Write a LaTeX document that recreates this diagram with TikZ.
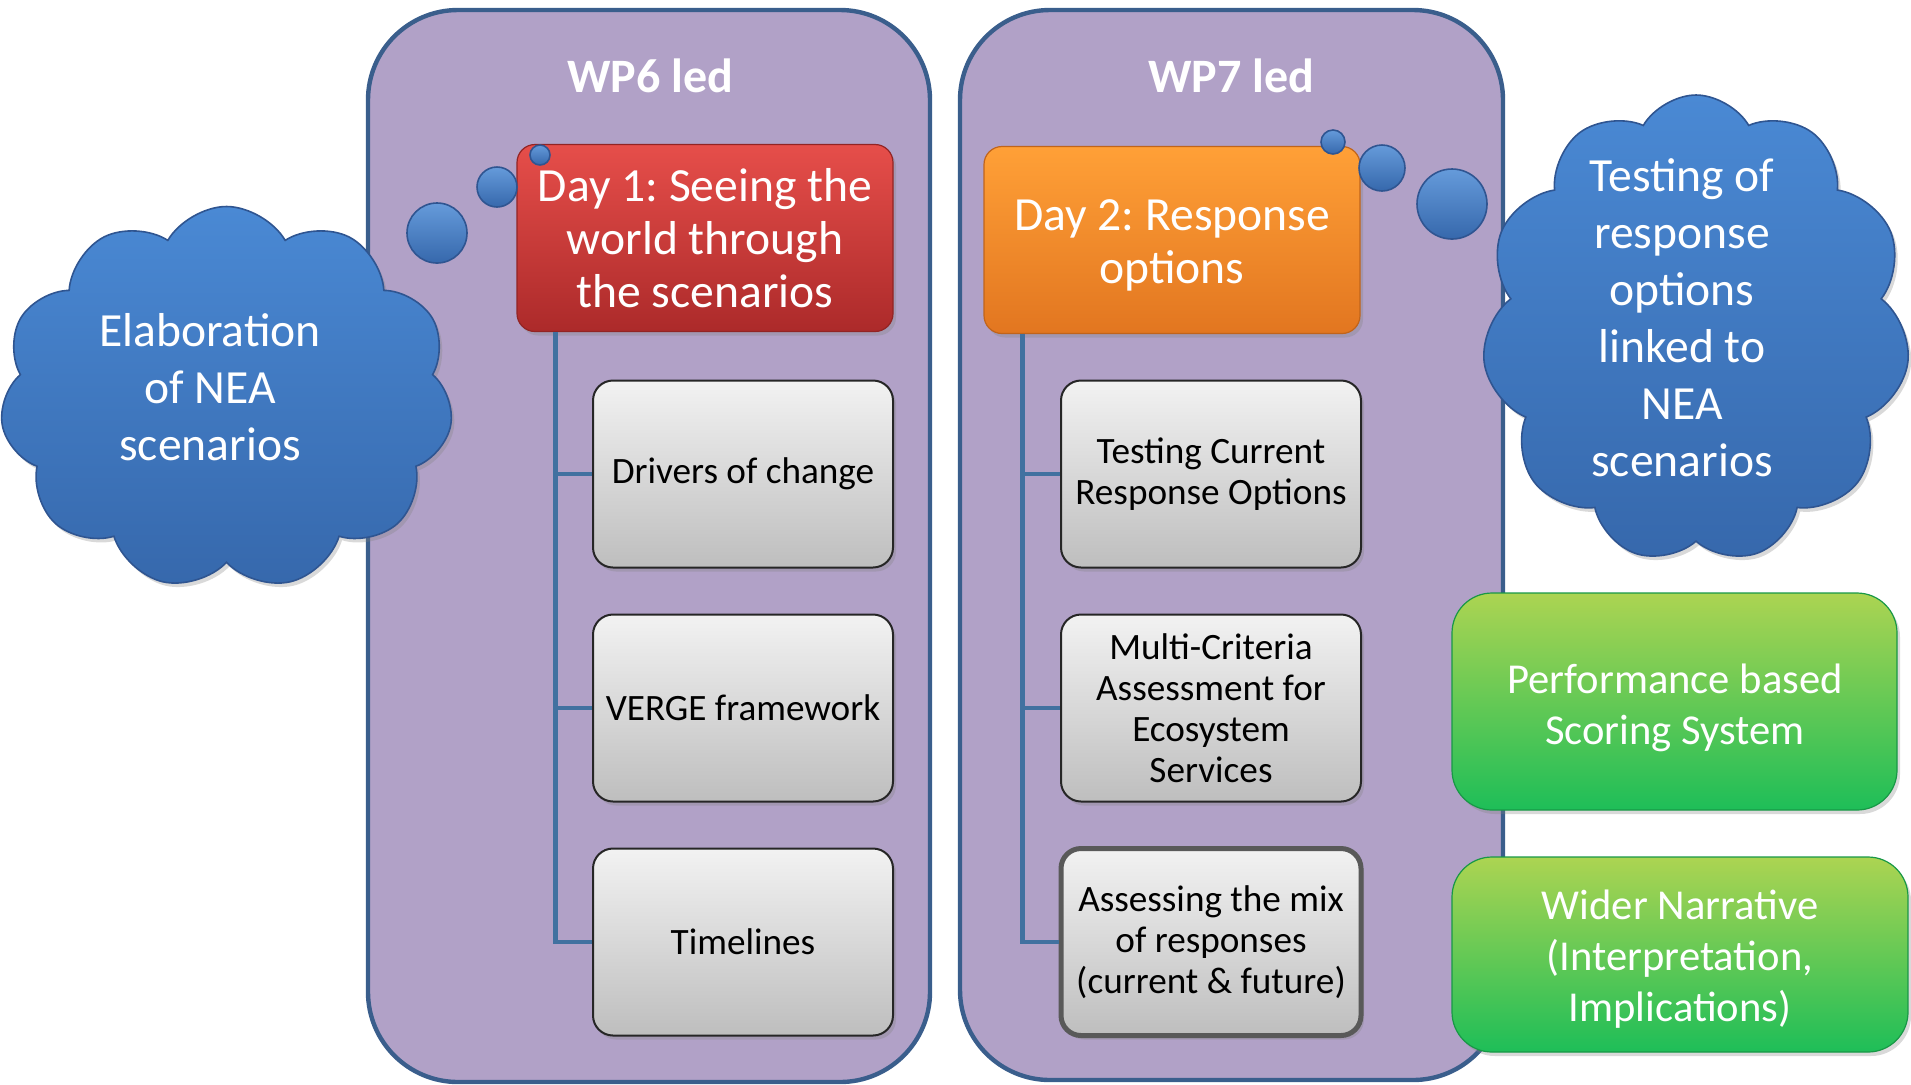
\documentclass[tikz,border=0pt]{standalone}
\usepackage{fontspec}
\setmainfont{Carlito}
\frenchspacing
\usetikzlibrary{shapes.symbols,shadows,positioning}

\definecolor{panelfill}{RGB}{177,161,199}
\definecolor{paneledge}{RGB}{58,94,140}
\definecolor{linkblue}{RGB}{65,113,160}
\definecolor{cloudtop}{RGB}{74,137,212}
\definecolor{cloudbot}{RGB}{54,104,172}
\definecolor{cloudedge}{RGB}{47,85,145}
\definecolor{redtop}{RGB}{230,78,74}
\definecolor{redbot}{RGB}{172,42,42}
\definecolor{orangetop}{RGB}{255,160,55}
\definecolor{orangebot}{RGB}{226,118,32}
\definecolor{greentop}{RGB}{172,212,82}
\definecolor{greenbot}{RGB}{30,190,88}
\definecolor{greytop}{RGB}{242,242,242}
\definecolor{greybot}{RGB}{190,190,190}

\tikzset{
  panel/.style={draw=paneledge, fill=panelfill, line width=2.2pt, rounded corners=45pt},
  wptitle/.style={text=white, font=\bfseries\fontsize{24}{28}\selectfont},
  softshadow/.style={drop shadow={opacity=0.3, shadow xshift=1.5pt, shadow yshift=-2pt}},
  daybox/.style={rounded corners=9pt, draw=#1bot!85!black, line width=0.6pt,
    top color=#1top, bottom color=#1bot, text=white, align=center,
    font=\fontsize{23.8}{26.5}\selectfont, minimum width=188pt, minimum height=93.5pt, softshadow},
  actbox/.style={rounded corners=10pt, draw=black!85, line width=1pt,
    top color=greytop, bottom color=greybot, align=center,
    font=\fontsize{18.6}{20.5}\selectfont, minimum width=150pt, minimum height=93.5pt, softshadow},
  outbox/.style={rounded corners=20pt, draw=greenbot!80!black, line width=0.6pt,
    top color=greentop, bottom color=greenbot, softshadow},
  outtext/.style={text=white, align=center, font=\fontsize{21.3}{25.5}\selectfont},
  thought/.style={cloud, cloud puffs=11, cloud puff arc=120, inner sep=0pt,
    draw=cloudedge, line width=0.8pt, top color=cloudtop, bottom color=cloudbot, softshadow},
  cloudtext/.style={text=white, align=center, font=\fontsize{23.8}{28.5}\selectfont},
  bubble/.style={circle, inner sep=0pt, draw=cloudedge, line width=0.8pt,
    top color=cloudtop!85!white, bottom color=cloudbot},
  link/.style={draw=linkblue, line width=2.4pt}
}

\begin{document}
\begin{tikzpicture}[x=0.5pt, y=-0.5pt]
  \useasboundingbox (0,0) rectangle (1911,1084);
  % the two work package panels
  \node[panel, minimum width=281pt, minimum height=536pt] (wp6) at (649,546) {};
  \node[panel, minimum width=271.5pt, minimum height=535pt] (wp7) at (1231.5,545) {};
  \node[wptitle] (wp6t) at (650,76) {WP6 led};
  \node[wptitle] (wp7t) at (1231,76) {WP7 led};

  % day boxes
  \node[daybox=red] (day1) at (705,238) {Day 1: Seeing the\\world through\\the scenarios};
  \node[daybox=orange] (day2) at (1172,240) {};
  \node[text=white, align=center, font=\fontsize{23.8}{26.5}\selectfont] (day2t) at (1172,245) {Day 2: Response\\options};

  % activities under each day
  \node[actbox] (drivers) at (743,474) {Drivers of change};
  \node[actbox] (verge) at (743,708) {VERGE framework};
  \node[actbox] (timelines) at (743,942) {Timelines};
  \node[actbox] (testing) at (1211,474) {Testing Current\\Response Options};
  \node[actbox] (mca) at (1211,708) {Multi-Criteria\\Assessment for\\Ecosystem\\Services};
  \node[actbox, draw=black!65, line width=2.5pt] (mix) at (1211,942) {Assessing the mix\\of responses\\(current \& future)};

  \foreach \n in {drivers,verge,timelines}
    \draw[link] ([xshift=19.5pt]day1.south west) |- (\n.west);
  \foreach \n in {testing,mca,mix}
    \draw[link] ([xshift=19.5pt]day2.south west) |- (\n.west);

  % outcomes
  \node[outbox, minimum width=222.5pt, minimum height=108.5pt] (scoring) at (1674.5,701.5) {};
  \node[outtext] (scoringt) at (1675,708) {Performance based\\Scoring System};
  \node[outbox, minimum width=228pt, minimum height=97.5pt] (narrative) at (1680,954.5) {};
  \node[outtext] (narrativet) at (1680,959) {Wider Narrative\\(Interpretation,\\Implications)};

  % thought clouds and their bubbles
  \node[thought, minimum width=226.5pt, minimum height=191.5pt] (elab) at (226.5,398) {};
  \node[cloudtext] (elabt) at (210,387) {Elaboration\\of NEA\\scenarios};
  \node[thought, minimum width=214pt, minimum height=234pt] (testcl) at (1696,329) {};
  \node[cloudtext] (testclt) at (1682,318) {Testing of\\response\\options\\linked to\\NEA\\scenarios};

  \node[bubble, minimum size=30pt] (lb3) at (437,233) {};
  \node[bubble, minimum size=20pt] (lb2) at (497,187) {};
  \node[bubble, minimum size=10pt] (lb1) at (540,155) {};
  \node[bubble, minimum size=35pt] (rb3) at (1452,204) {};
  \node[bubble, minimum size=23pt] (rb2) at (1382,168) {};
  \node[bubble, minimum size=12pt] (rb1) at (1333,142) {};
\end{tikzpicture}
\end{document}
